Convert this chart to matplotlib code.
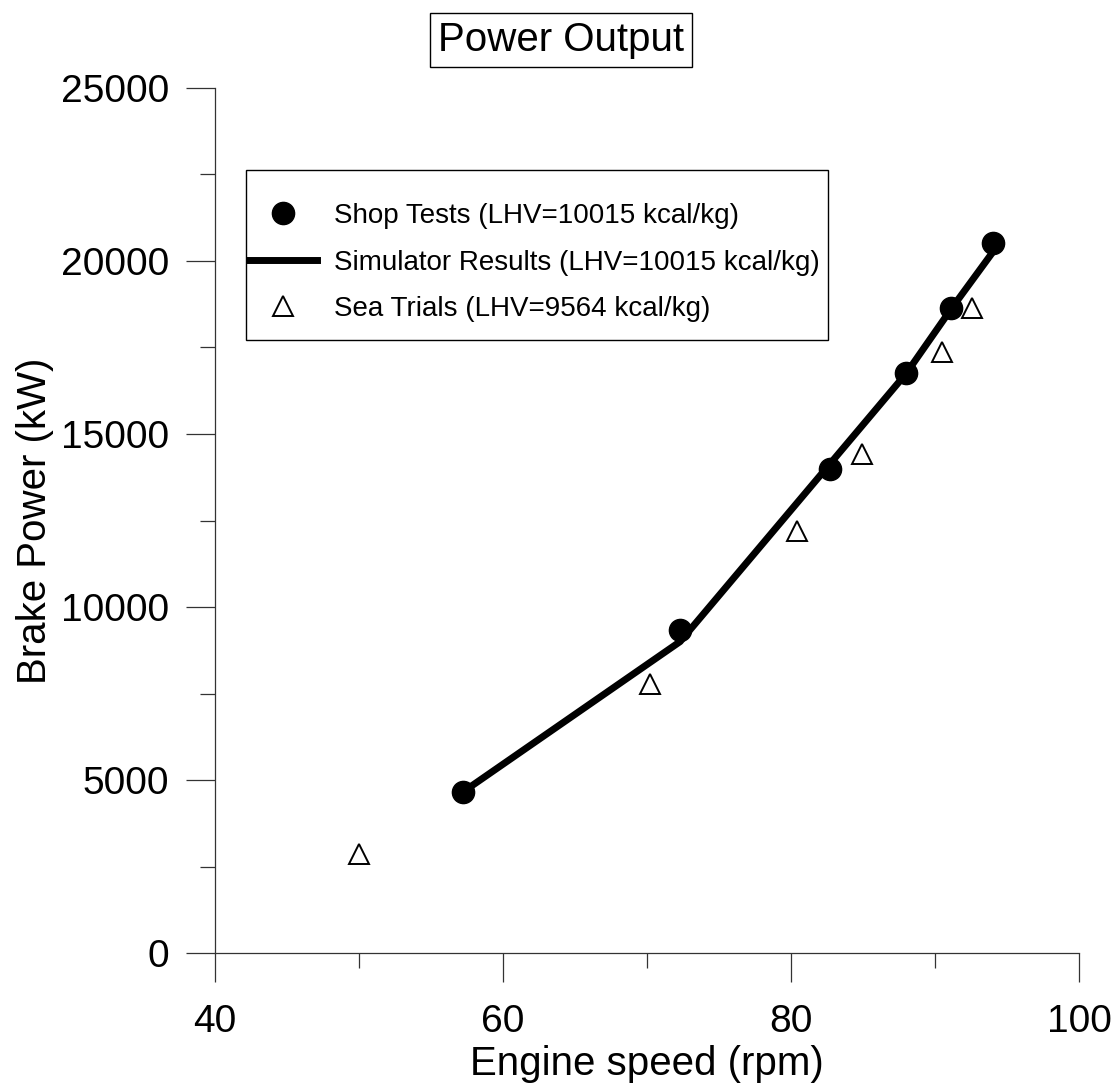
import numpy as np
import matplotlib
matplotlib.use("Agg")
import matplotlib.pyplot as plt
from matplotlib.patches import Rectangle
from matplotlib.ticker import MultipleLocator

plt.rcParams['font.family'] = ['Liberation Sans', 'DejaVu Sans']

# shop tests (LHV=10015 kcal/kg)
shop_rpm = [57.2, 72.3, 82.7, 88.0, 91.1, 94.0]
shop_kw = [4650, 9330, 13990, 16770, 18630, 20510]

# simulator results
sim_rpm = [57.2, 72.3, 88.0, 91.1, 94.0]
sim_kw = [4650, 9000, 16750, 18600, 20250]

# sea trials (LHV=9564 kcal/kg)
sea_rpm = [50.0, 70.2, 80.4, 84.9, 90.5, 92.6]
sea_kw = [2860, 7780, 12200, 14420, 17360, 18630]

fig = plt.figure(figsize=(11.18, 10.86), dpi=100)
ax = fig.add_axes([215/1118, 1-953/1086, 864/1118, 865/1086])

ax.plot(shop_rpm, shop_kw, 'o', color='black', markersize=16,
        label='Shop Tests (LHV=10015 kcal/kg)', zorder=3)
ax.plot(sim_rpm, sim_kw, '-', color='black', linewidth=5,
        label='Simulator Results (LHV=10015 kcal/kg)', zorder=4)
ax.plot(sea_rpm, sea_kw, '^', markerfacecolor='white', markeredgecolor='black',
        markersize=15, markeredgewidth=1.4,
        label='Sea Trials (LHV=9564 kcal/kg)', zorder=3)

ax.set_xlim(40, 100)
ax.set_ylim(0, 25000)
ax.xaxis.set_major_locator(MultipleLocator(20))
ax.xaxis.set_minor_locator(MultipleLocator(10))
ax.yaxis.set_major_locator(MultipleLocator(5000))
ax.yaxis.set_minor_locator(MultipleLocator(2500))

ax.spines['top'].set_visible(False)
ax.spines['right'].set_visible(False)
for s in ['left', 'bottom']:
    ax.spines[s].set_linewidth(0.9)
    ax.spines[s].set_color('#333333')

ax.tick_params(axis='both', which='major', direction='out', length=21,
               width=0.9, color='#333333', labelsize=28)
ax.tick_params(axis='both', which='minor', direction='out', length=11,
               width=0.9, color='#333333')
ax.tick_params(axis='x', which='major', pad=16)
ax.tick_params(axis='y', which='major', pad=12)

ax.set_xlabel('Engine speed (rpm)', fontsize=29, labelpad=3)
ax.set_ylabel('Brake Power (kW)', fontsize=29, labelpad=5)

# legend box drawn separately so the padding can be uneven
ax.add_patch(Rectangle((246/1118, 1-340/1086), 582/1118, 170/1086,
                       transform=fig.transFigure, facecolor='white',
                       edgecolor='black', linewidth=1.0, zorder=5,
                       clip_on=False))
leg = ax.legend(loc='center left', bbox_to_anchor=(249/1118, 1-262.5/1086),
                bbox_transform=fig.transFigure, frameon=False,
                prop={'family': ['Liberation Sans Narrow', 'Liberation Sans'], 'size': 20},
                borderpad=0, borderaxespad=0, handlelength=2.45,
                handletextpad=0.62, labelspacing=0.74)
leg.set_zorder(6)

fig.text(0.502, 1-40/1086, 'Power Output', ha='center', va='center', fontsize=29,
         bbox=dict(boxstyle='square,pad=0.2', facecolor='white',
                   edgecolor='black', linewidth=1.0))

fig.savefig('out.png', dpi=100)
